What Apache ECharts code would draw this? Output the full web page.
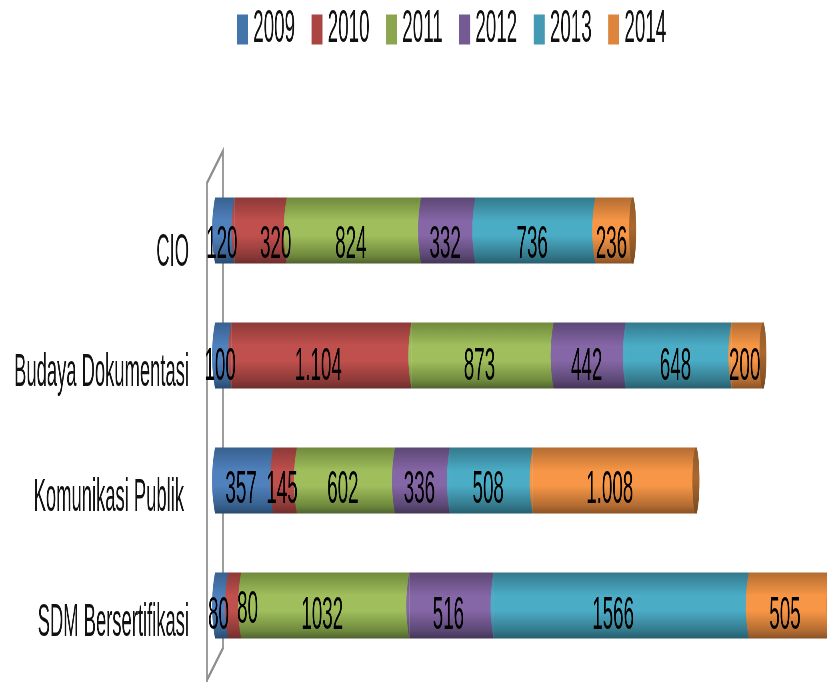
<!DOCTYPE html>
<html>
<head>
<meta charset="utf-8">
<style>
html,body{margin:0;padding:0;width:827px;height:682px;overflow:hidden;background:#fff}
#c{width:2068px;height:682px;transform:scaleX(.4);transform-origin:0 0}
</style>
<script src="https://cdn.jsdelivr.net/npm/echarts@6/dist/echarts.min.js"></script>
</head>
<body>
<div id="c"></div>
<script>
const categories = ['CIO', 'Budaya Dokumentasi', 'Komunikasi Publik', 'SDM Bersertifikasi'];
const years = ['2009', '2010', '2011', '2012', '2013', '2014'];
const v2009 = [120, 100, 357, 80];
const v2010 = [320, 1104, 145, 80];
const v2011 = [824, 873, 602, 1032];
const v2012 = [332, 442, 336, 516];
const v2013 = [736, 648, 508, 1566];
const v2014 = [236, 200, 1008, 505];
const values = [v2009, v2010, v2011, v2012, v2013, v2014];
const labelOverrides = { '1-1': '1.104', '5-2': '1.008' };

const SX = 0.4; // page is drawn wide, then squeezed horizontally like the stretched original
const X = px => px / SX;
const shades = [
  ['#38618f', '#4f81bd', '#2a4a6e', '#4375ab'],
  ['#8c3a38', '#c0504d', '#6e2e2c', '#ab4542'],
  ['#6f8a3d', '#a0bf5c', '#4f6230', '#8ca64f'],
  ['#5c4875', '#8566a6', '#443557', '#745a92'],
  ['#34798c', '#4bacc6', '#265f6f', '#439ab2'],
  ['#b36c32', '#f79646', '#8a5226', '#dd853d']
];
const font = '"Liberation Sans",sans-serif';
const fontSize = 47, axisFontSize = 46;
const barW = 66, bulge = X(3), capRx = X(3.5);
const rowDy = [15, 12, 10, 11];
const labelDx = -3;
const specialOffset = { '1-0': [15, 0], '1-3': [13, -6], '4-3': [-8, 0], '5-2': [-5, 0] };

function grad(c) {
  return new echarts.graphic.LinearGradient(0, 0, 0, 1, [
    { offset: 0, color: c[0] }, { offset: 0.35, color: c[1] },
    { offset: 0.58, color: c[1] }, { offset: 0.88, color: c[0] },
    { offset: 1, color: c[2] }
  ]);
}
const capGrad = new echarts.graphic.LinearGradient(0, 0, 0, 1, [
  { offset: 0, color: '#8f5a2a' }, { offset: 0.45, color: '#a9682f' }, { offset: 1, color: '#7a4a20' }
]);

const barSeries = years.map((y, s) => ({
  name: y, type: 'bar', stack: 'total', barWidth: barW, clip: true,
  itemStyle: { color: grad(shades[s]) },
  data: values[s].map((v, c) => {
    const k = s + '-' + c;
    const o = specialOffset[k] ? [X(specialOffset[k][0]), rowDy[c] + specialOffset[k][1]] : [X(labelDx), rowDy[c]];
    return { value: v, label: { offset: o } };
  }),
  label: {
    show: true, position: 'inside', color: '#000', fontFamily: font, fontSize: fontSize,
    formatter: p => labelOverrides[s + '-' + p.dataIndex] || String(p.value)
  },
  z: 3
}));

const capRows = [];
categories.forEach((cat, c) => {
  let start = 0;
  values.forEach((arr, s) => {
    capRows.push([start, c, s, 0]);
    start += arr[c];
  });
  capRows.push([start, c, 5, 1]);
});

const capSeries = {
  type: 'custom', z: 3, silent: true, clip: false,
  encode: { x: 0, y: 1 },
  data: capRows,
  tooltip: { show: false },
  renderItem: function (params, api) {
    const p = api.coord([api.value(0), api.value(1)]);
    const s = api.value(2), isEnd = api.value(3);
    const t = p[1] - barW / 2, b = p[1] + barW / 2;
    if (isEnd) {
      return {
        type: 'ellipse', z2: 1,
        shape: { cx: p[0] - X(1), cy: p[1], rx: capRx, ry: barW / 2 },
        style: { fill: capGrad }
      };
    }
    return {
      type: 'path', z2: 1,
      shape: {
        pathData: `M${p[0]} ${t} Q${p[0] - 2 * bulge} ${p[1]} ${p[0]} ${b} Z`,
        x: p[0] - bulge, y: t, width: bulge, height: barW
      },
      style: { fill: grad(shades[s]) }
    };
  }
};

const chart = echarts.init(document.getElementById('c'));
chart.setOption({
  animation: false,
  backgroundColor: '#fff',
  legend: {
    left: X(237), top: 6, padding: 0, itemWidth: X(11), itemHeight: 30, itemGap: X(16.5),
    icon: 'rect',
    textStyle: { fontFamily: font, fontSize: fontSize, color: '#111', padding: [0, 0, 0, 8] },
    data: years.map((y, s) => ({ name: y, itemStyle: { color: shades[s][3] } }))
  },
  grid: { left: X(215), right: 0, top: 168, height: 500, containLabel: false, outerBoundsMode: 'none' },
  xAxis: { type: 'value', min: 0, max: 3755, show: false },
  yAxis: {
    type: 'category', inverse: true, data: categories,
    axisLine: { show: false }, axisTick: { show: false },
    axisLabel: {
      margin: X(26), color: '#111', fontFamily: font, fontSize: axisFontSize,
      formatter: v => v === 'Komunikasi Publik' ? '{k|' + v + '}' : v === 'CIO' ? '{c|' + v + '}' : '{d|' + v + '}',
      rich: {
        c: { fontFamily: font, fontSize: axisFontSize, color: '#111', padding: [46, 0, 0, 0] },
        d: { fontFamily: font, fontSize: axisFontSize, color: '#111', padding: [36, 0, 0, 0] },
        k: { fontFamily: font, fontSize: axisFontSize, color: '#111', padding: [36, X(5), 0, 0] }
      }
    }
  },
  graphic: [{
    type: 'polyline', z: 0, silent: true,
    shape: { points: [[X(207), 682], [X(207), 183], [X(223), 151], [X(223), 648], [X(207), 680]] },
    style: { stroke: '#8f8f8f', lineWidth: 4, fill: null }
  }],
  series: barSeries.concat([capSeries])
});
</script>
</body>
</html>
